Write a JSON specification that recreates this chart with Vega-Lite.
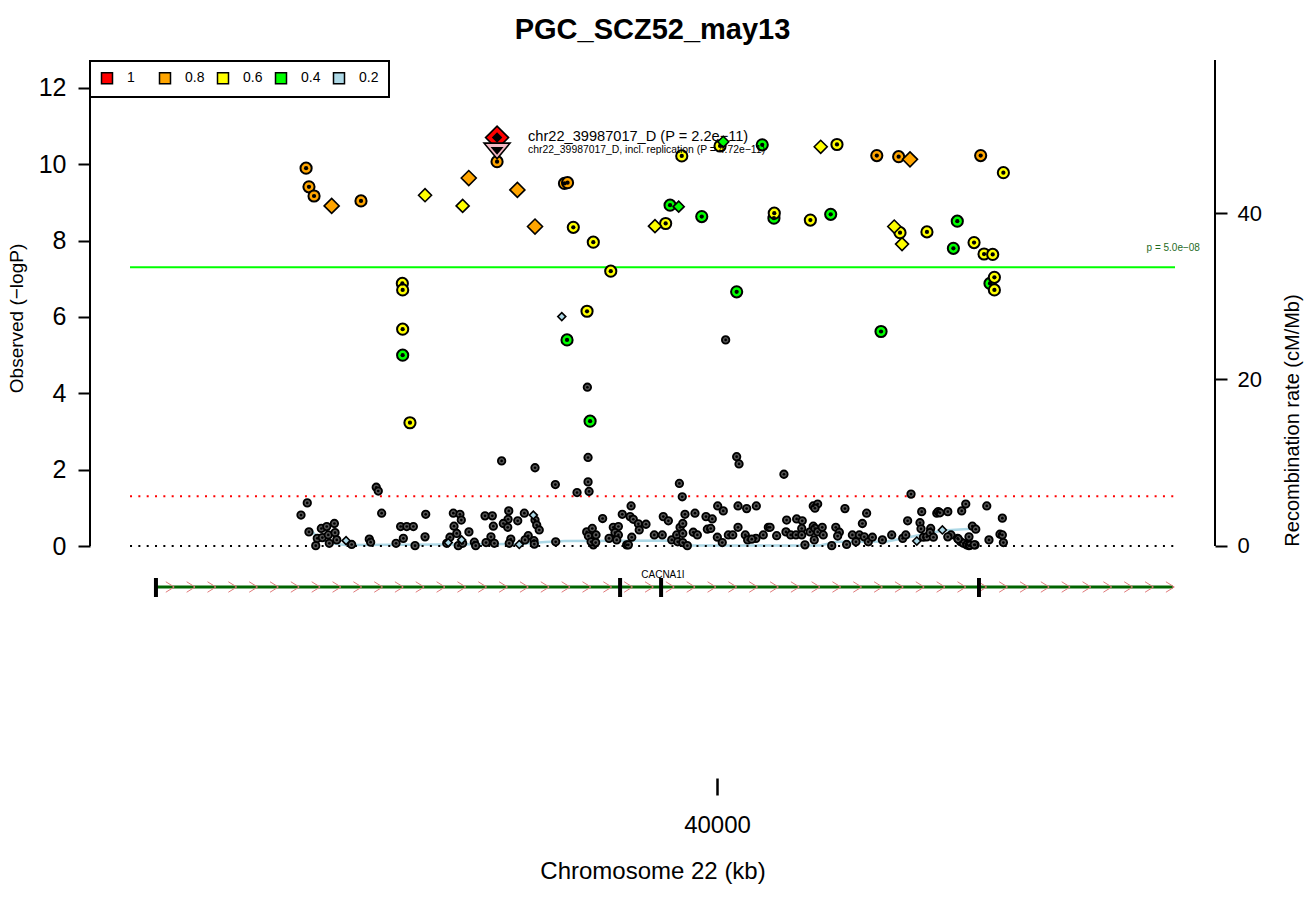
{
  "$schema": "https://vega.github.io/schema/vega-lite/v6.json",
  "width": 1125,
  "height": 718,
  "autosize": {"type": "none"},
  "padding": {"left": 90, "top": 60, "right": 89, "bottom": 122},
  "background": "white",
  "title": {"text": "PGC_SCZ52_may13", "fontSize": 29, "font": "Liberation Sans", "fontWeight": "bold", "anchor": "middle", "baseline": "alphabetic", "offset": -9, "color": "black", "frame": "group"},
  "config": {
    "view": {"stroke": null},
    "font": "Liberation Sans",
    "axis": {"grid": false, "domain": false, "labelColor": "black", "titleColor": "black", "tickColor": "black", "labelFont": "Liberation Sans", "titleFont": "Liberation Sans", "titleFontWeight": "normal"}
  },
  "datasets": {
    "thr": [
      {"kind": "gw", "pos": 39965.36, "pos2": 40027.03, "logp": 7.301},
      {"kind": "nom", "pos": 39965.36, "pos2": 40027.03, "logp": 1.301},
      {"kind": "zero", "pos": 39965.36, "pos2": 40027.03, "logp": 0}
    ],
    "axlines": [
      {"pos": 39962.998, "logp": 0, "logp2": 12},
      {"pos": 40029.389, "logp": 0, "logp2": 12.733}
    ],
    "geneline": [{"pos": 39966.89, "pos2": 40026.9, "logp": -1.074}],
    "exons": [
      {"pos": 39966.89, "logp": -0.838, "logp2": -1.336},
      {"pos": 39994.28, "logp": -0.838, "logp2": -1.336},
      {"pos": 39996.70, "logp": -0.838, "logp2": -1.336},
      {"pos": 40015.46, "logp": -0.838, "logp2": -1.336}
    ],
    "genelabel": [{"pos": 39996.81, "logp": -0.76, "text": "CACNA1I"}],
    "arrows": [
      {"pos": 39967.72, "logp": -1.074}, {"pos": 39968.95, "logp": -1.074}, {"pos": 39970.18, "logp": -1.074}, {"pos": 39971.41, "logp": -1.074},
      {"pos": 39972.64, "logp": -1.074}, {"pos": 39973.87, "logp": -1.074}, {"pos": 39975.10, "logp": -1.074}, {"pos": 39976.33, "logp": -1.074},
      {"pos": 39977.56, "logp": -1.074}, {"pos": 39978.79, "logp": -1.074}, {"pos": 39980.02, "logp": -1.074}, {"pos": 39981.24, "logp": -1.074},
      {"pos": 39982.47, "logp": -1.074}, {"pos": 39983.70, "logp": -1.074}, {"pos": 39984.93, "logp": -1.074}, {"pos": 39986.16, "logp": -1.074},
      {"pos": 39987.39, "logp": -1.074}, {"pos": 39988.62, "logp": -1.074}, {"pos": 39989.85, "logp": -1.074}, {"pos": 39991.08, "logp": -1.074},
      {"pos": 39992.31, "logp": -1.074}, {"pos": 39993.54, "logp": -1.074}, {"pos": 39994.77, "logp": -1.074}, {"pos": 39996.00, "logp": -1.074},
      {"pos": 39997.23, "logp": -1.074}, {"pos": 39998.46, "logp": -1.074}, {"pos": 39999.69, "logp": -1.074}, {"pos": 40000.92, "logp": -1.074},
      {"pos": 40002.15, "logp": -1.074}, {"pos": 40003.38, "logp": -1.074}, {"pos": 40004.61, "logp": -1.074}, {"pos": 40005.83, "logp": -1.074},
      {"pos": 40007.06, "logp": -1.074}, {"pos": 40008.29, "logp": -1.074}, {"pos": 40009.52, "logp": -1.074}, {"pos": 40010.75, "logp": -1.074},
      {"pos": 40011.98, "logp": -1.074}, {"pos": 40013.21, "logp": -1.074}, {"pos": 40014.44, "logp": -1.074}, {"pos": 40015.67, "logp": -1.074},
      {"pos": 40016.90, "logp": -1.074}, {"pos": 40018.13, "logp": -1.074}, {"pos": 40019.36, "logp": -1.074}, {"pos": 40020.59, "logp": -1.074},
      {"pos": 40021.82, "logp": -1.074}, {"pos": 40023.05, "logp": -1.074}, {"pos": 40024.28, "logp": -1.074}, {"pos": 40025.51, "logp": -1.074},
      {"pos": 40026.74, "logp": -1.074}
    ],
    "gray": [
      {"pos": 40000.51, "logp": 5.40, "ld": "none"}, {"pos": 39992.35, "logp": 4.16, "ld": "none"},
      {"pos": 39987.29, "logp": 2.23, "ld": "none"}, {"pos": 39989.26, "logp": 2.05, "ld": "none"}, {"pos": 39990.46, "logp": 1.61, "ld": "none"},
      {"pos": 39992.39, "logp": 2.32, "ld": "none"}, {"pos": 39992.39, "logp": 1.68, "ld": "none"}, {"pos": 39992.45, "logp": 1.43, "ld": "none"},
      {"pos": 39991.74, "logp": 1.40, "ld": "none"}, {"pos": 39979.89, "logp": 1.54, "ld": "none"}, {"pos": 39980.01, "logp": 1.44, "ld": "none"},
      {"pos": 39975.82, "logp": 1.13, "ld": "none"}, {"pos": 39975.45, "logp": 0.81, "ld": "none"}, {"pos": 39975.92, "logp": 0.37, "ld": "none"},
      {"pos": 39976.32, "logp": 0.01, "ld": "none"}, {"pos": 39976.41, "logp": 0.20, "ld": "none"}, {"pos": 39976.65, "logp": 0.46, "ld": "none"},
      {"pos": 39976.71, "logp": 0.22, "ld": "none"}, {"pos": 39976.97, "logp": 0.51, "ld": "none"}, {"pos": 39977.06, "logp": 0.29, "ld": "none"},
      {"pos": 39977.12, "logp": 0.07, "ld": "none"}, {"pos": 39977.42, "logp": 0.59, "ld": "none"}, {"pos": 39977.46, "logp": 0.35, "ld": "none"},
      {"pos": 39977.56, "logp": 0.16, "ld": "none"}, {"pos": 39978.44, "logp": 0.04, "ld": "none"}, {"pos": 39979.48, "logp": 0.18, "ld": "none"},
      {"pos": 39979.56, "logp": 0.10, "ld": "none"}, {"pos": 39980.21, "logp": 0.86, "ld": "none"}, {"pos": 39981.06, "logp": 0.07, "ld": "none"},
      {"pos": 39981.33, "logp": 0.51, "ld": "none"}, {"pos": 39981.69, "logp": 0.51, "ld": "none"}, {"pos": 39982.08, "logp": 0.51, "ld": "none"},
      {"pos": 39981.49, "logp": 0.20, "ld": "none"}, {"pos": 39982.18, "logp": 0.01, "ld": "none"}, {"pos": 39982.81, "logp": 0.83, "ld": "none"},
      {"pos": 39982.77, "logp": 0.24, "ld": "none"}, {"pos": 39984.05, "logp": 0.07, "ld": "none"}, {"pos": 39984.24, "logp": 0.23, "ld": "none"},
      {"pos": 39984.44, "logp": 0.86, "ld": "none"}, {"pos": 39984.83, "logp": 0.83, "ld": "none"}, {"pos": 39984.91, "logp": 0.68, "ld": "none"},
      {"pos": 39984.48, "logp": 0.52, "ld": "none"}, {"pos": 39984.64, "logp": 0.33, "ld": "none"}, {"pos": 39984.73, "logp": 0.01, "ld": "none"},
      {"pos": 39984.99, "logp": 0.07, "ld": "none"}, {"pos": 39985.36, "logp": 0.37, "ld": "none"}, {"pos": 39985.68, "logp": 0.10, "ld": "none"},
      {"pos": 39985.76, "logp": 0.01, "ld": "none"}, {"pos": 39986.31, "logp": 0.79, "ld": "none"}, {"pos": 39986.74, "logp": 0.79, "ld": "none"},
      {"pos": 39986.80, "logp": 0.52, "ld": "none"}, {"pos": 39986.66, "logp": 0.24, "ld": "none"}, {"pos": 39986.37, "logp": 0.09, "ld": "none"},
      {"pos": 39986.86, "logp": 0.07, "ld": "none"}, {"pos": 39987.71, "logp": 0.92, "ld": "none"}, {"pos": 39987.67, "logp": 0.70, "ld": "none"},
      {"pos": 39987.39, "logp": 0.59, "ld": "none"}, {"pos": 39987.65, "logp": 0.49, "ld": "none"}, {"pos": 39987.83, "logp": 0.18, "ld": "none"},
      {"pos": 39987.74, "logp": 0.07, "ld": "none"}, {"pos": 39988.24, "logp": 0.66, "ld": "none"}, {"pos": 39988.63, "logp": 0.86, "ld": "none"},
      {"pos": 39989.26, "logp": 0.68, "ld": "none"}, {"pos": 39989.36, "logp": 0.55, "ld": "none"}, {"pos": 39989.51, "logp": 0.42, "ld": "none"},
      {"pos": 39988.86, "logp": 0.27, "ld": "none"}, {"pos": 39988.67, "logp": 0.16, "ld": "none"}, {"pos": 39989.20, "logp": 0.14, "ld": "none"},
      {"pos": 39989.22, "logp": 0.05, "ld": "none"}, {"pos": 39990.48, "logp": 0.11, "ld": "none"}, {"pos": 39992.31, "logp": 0.37, "ld": "none"},
      {"pos": 39992.64, "logp": 0.46, "ld": "none"}, {"pos": 39992.41, "logp": 0.26, "ld": "none"}, {"pos": 39992.86, "logp": 0.29, "ld": "none"},
      {"pos": 39992.70, "logp": 0.03, "ld": "none"}, {"pos": 39992.57, "logp": 0.11, "ld": "none"}, {"pos": 39992.84, "logp": 0.09, "ld": "none"},
      {"pos": 39993.25, "logp": 0.72, "ld": "none"}, {"pos": 39993.63, "logp": 0.20, "ld": "none"}, {"pos": 39993.88, "logp": 0.49, "ld": "none"},
      {"pos": 39994.18, "logp": 0.51, "ld": "none"}, {"pos": 39993.98, "logp": 0.35, "ld": "none"}, {"pos": 39994.18, "logp": 0.29, "ld": "none"},
      {"pos": 39994.08, "logp": 0.16, "ld": "none"}, {"pos": 39994.41, "logp": 0.83, "ld": "none"}, {"pos": 39994.67, "logp": 0.03, "ld": "none"},
      {"pos": 40001.16, "logp": 2.34, "ld": "none"}, {"pos": 40001.30, "logp": 2.15, "ld": "none"}, {"pos": 39997.78, "logp": 1.64, "ld": "none"},
      {"pos": 39997.95, "logp": 1.29, "ld": "none"}, {"pos": 40003.95, "logp": 1.88, "ld": "none"}, {"pos": 40011.45, "logp": 1.36, "ld": "none"},
      {"pos": 39994.93, "logp": 1.05, "ld": "none"}, {"pos": 39994.87, "logp": 0.77, "ld": "none"}, {"pos": 39995.06, "logp": 0.70, "ld": "none"},
      {"pos": 39995.36, "logp": 0.58, "ld": "none"}, {"pos": 39995.41, "logp": 0.42, "ld": "none"}, {"pos": 39994.97, "logp": 0.23, "ld": "none"},
      {"pos": 39994.77, "logp": 0.03, "ld": "none"}, {"pos": 39995.81, "logp": 0.57, "ld": "none"}, {"pos": 39996.30, "logp": 0.29, "ld": "none"},
      {"pos": 39996.77, "logp": 0.29, "ld": "none"}, {"pos": 39996.83, "logp": 0.77, "ld": "none"}, {"pos": 39997.13, "logp": 0.66, "ld": "none"},
      {"pos": 39997.33, "logp": 0.16, "ld": "none"}, {"pos": 39997.62, "logp": 0.29, "ld": "none"}, {"pos": 39997.68, "logp": 0.11, "ld": "none"},
      {"pos": 39997.82, "logp": 0.49, "ld": "none"}, {"pos": 39997.98, "logp": 0.59, "ld": "none"}, {"pos": 39998.11, "logp": 0.83, "ld": "none"},
      {"pos": 39997.98, "logp": 0.33, "ld": "none"}, {"pos": 39997.98, "logp": 0.09, "ld": "none"}, {"pos": 39998.25, "logp": 0.01, "ld": "none"},
      {"pos": 39998.60, "logp": 0.36, "ld": "none"}, {"pos": 39998.84, "logp": 0.29, "ld": "none"}, {"pos": 39998.70, "logp": 0.86, "ld": "none"},
      {"pos": 39999.35, "logp": 0.77, "ld": "none"}, {"pos": 39999.72, "logp": 0.71, "ld": "none"}, {"pos": 39999.43, "logp": 0.44, "ld": "none"},
      {"pos": 39999.63, "logp": 0.46, "ld": "none"}, {"pos": 40000.04, "logp": 1.05, "ld": "none"}, {"pos": 40000.37, "logp": 0.92, "ld": "none"},
      {"pos": 40000.02, "logp": 0.23, "ld": "none"}, {"pos": 40000.31, "logp": 0.09, "ld": "none"}, {"pos": 40001.24, "logp": 1.05, "ld": "none"},
      {"pos": 40001.75, "logp": 0.98, "ld": "none"}, {"pos": 40002.32, "logp": 1.05, "ld": "none"}, {"pos": 40001.24, "logp": 0.49, "ld": "none"},
      {"pos": 40000.67, "logp": 0.29, "ld": "none"}, {"pos": 40000.93, "logp": 0.29, "ld": "none"}, {"pos": 40001.67, "logp": 0.29, "ld": "none"},
      {"pos": 40001.81, "logp": 0.16, "ld": "none"}, {"pos": 40002.30, "logp": 0.20, "ld": "none"}, {"pos": 40002.05, "logp": 0.18, "ld": "none"},
      {"pos": 40002.73, "logp": 0.29, "ld": "none"}, {"pos": 40003.03, "logp": 0.49, "ld": "none"}, {"pos": 40003.13, "logp": 0.49, "ld": "none"},
      {"pos": 40003.52, "logp": 0.27, "ld": "none"}, {"pos": 40004.11, "logp": 0.68, "ld": "none"}, {"pos": 40004.70, "logp": 0.71, "ld": "none"},
      {"pos": 40005.03, "logp": 0.66, "ld": "none"}, {"pos": 40004.07, "logp": 0.37, "ld": "none"}, {"pos": 40004.35, "logp": 0.29, "ld": "none"},
      {"pos": 40004.66, "logp": 0.29, "ld": "none"}, {"pos": 40005.00, "logp": 0.46, "ld": "none"}, {"pos": 40005.00, "logp": 0.29, "ld": "none"},
      {"pos": 40005.19, "logp": 0.03, "ld": "none"}, {"pos": 40005.49, "logp": 0.37, "ld": "none"}, {"pos": 40005.68, "logp": 0.52, "ld": "none"},
      {"pos": 40005.78, "logp": 0.46, "ld": "none"}, {"pos": 40005.68, "logp": 1.05, "ld": "none"}, {"pos": 40005.94, "logp": 1.10, "ld": "none"},
      {"pos": 40005.78, "logp": 0.99, "ld": "none"}, {"pos": 40005.74, "logp": 0.16, "ld": "none"}, {"pos": 40005.94, "logp": 0.37, "ld": "none"},
      {"pos": 40006.21, "logp": 0.49, "ld": "none"}, {"pos": 40006.27, "logp": 0.29, "ld": "none"}, {"pos": 40006.77, "logp": 0.01, "ld": "none"},
      {"pos": 40007.01, "logp": 0.49, "ld": "none"}, {"pos": 40007.22, "logp": 0.36, "ld": "none"}, {"pos": 40007.12, "logp": 0.26, "ld": "none"},
      {"pos": 40007.55, "logp": 0.98, "ld": "none"}, {"pos": 40007.65, "logp": 0.04, "ld": "none"}, {"pos": 40007.99, "logp": 0.29, "ld": "none"},
      {"pos": 40008.20, "logp": 0.11, "ld": "none"}, {"pos": 40008.40, "logp": 0.29, "ld": "none"}, {"pos": 40008.58, "logp": 0.59, "ld": "none"},
      {"pos": 40008.69, "logp": 0.24, "ld": "none"}, {"pos": 40008.83, "logp": 0.86, "ld": "none"}, {"pos": 40008.93, "logp": 0.11, "ld": "none"},
      {"pos": 40009.17, "logp": 0.23, "ld": "none"}, {"pos": 40009.76, "logp": 0.16, "ld": "none"}, {"pos": 40010.31, "logp": 0.29, "ld": "none"},
      {"pos": 40010.96, "logp": 0.20, "ld": "none"}, {"pos": 40011.14, "logp": 0.29, "ld": "none"}, {"pos": 40011.25, "logp": 0.66, "ld": "none"},
      {"pos": 40011.98, "logp": 0.61, "ld": "none"}, {"pos": 40012.04, "logp": 0.45, "ld": "none"}, {"pos": 40012.08, "logp": 0.90, "ld": "none"},
      {"pos": 40012.18, "logp": 0.23, "ld": "none"}, {"pos": 40012.38, "logp": 0.24, "ld": "none"}, {"pos": 40012.61, "logp": 0.46, "ld": "none"},
      {"pos": 40012.57, "logp": 0.35, "ld": "none"}, {"pos": 40012.77, "logp": 0.23, "ld": "none"}, {"pos": 40012.97, "logp": 0.86, "ld": "none"},
      {"pos": 40013.06, "logp": 0.90, "ld": "none"}, {"pos": 40013.62, "logp": 0.90, "ld": "none"}, {"pos": 40013.81, "logp": 0.29, "ld": "none"},
      {"pos": 40013.62, "logp": 0.24, "ld": "none"}, {"pos": 40014.20, "logp": 0.20, "ld": "none"}, {"pos": 40014.44, "logp": 0.92, "ld": "none"},
      {"pos": 40014.68, "logp": 1.10, "ld": "none"}, {"pos": 40014.38, "logp": 0.11, "ld": "none"}, {"pos": 40014.54, "logp": 0.07, "ld": "none"},
      {"pos": 40014.74, "logp": 0.03, "ld": "none"}, {"pos": 40014.87, "logp": 0.01, "ld": "none"}, {"pos": 40014.87, "logp": 0.24, "ld": "none"},
      {"pos": 40015.07, "logp": 0.52, "ld": "none"}, {"pos": 40015.27, "logp": 0.44, "ld": "none"}, {"pos": 40015.23, "logp": 0.03, "ld": "none"},
      {"pos": 40015.92, "logp": 1.05, "ld": "none"}, {"pos": 40016.05, "logp": 0.16, "ld": "none"}, {"pos": 40016.70, "logp": 0.31, "ld": "none"},
      {"pos": 40016.84, "logp": 0.29, "ld": "none"}, {"pos": 40016.90, "logp": 0.09, "ld": "none"}, {"pos": 40016.84, "logp": 0.73, "ld": "none"},
      {"pos": 40013.16, "logp": 0.87, "ld": "none"}, {"pos": 40014.93, "logp": 0.02, "ld": "none"}, {"pos": 40015.18, "logp": 0.03, "ld": "none"},
      {"pos": 40014.24, "logp": 0.18, "ld": "none"}
    ],
    "circ": [
      {"pos": 40002.67, "logp": 10.51, "ld": "0.4"}, {"pos": 39997.23, "logp": 8.93, "ld": "0.4"}, {"pos": 39999.10, "logp": 8.63, "ld": "0.4"},
      {"pos": 40003.36, "logp": 8.59, "ld": "0.4"}, {"pos": 40006.71, "logp": 8.69, "ld": "0.4"}, {"pos": 40014.18, "logp": 8.51, "ld": "0.4"},
      {"pos": 40013.95, "logp": 7.80, "ld": "0.4"}, {"pos": 40016.11, "logp": 6.88, "ld": "0.4"}, {"pos": 39981.45, "logp": 5.00, "ld": "0.4"},
      {"pos": 39991.15, "logp": 5.40, "ld": "0.4"}, {"pos": 39992.51, "logp": 3.27, "ld": "0.4"}, {"pos": 40001.16, "logp": 6.66, "ld": "0.4"},
      {"pos": 40009.68, "logp": 5.62, "ld": "0.4"},
      {"pos": 39991.52, "logp": 8.35, "ld": "0.6"}, {"pos": 39992.70, "logp": 7.96, "ld": "0.6"}, {"pos": 39993.73, "logp": 7.20, "ld": "0.6"},
      {"pos": 39997.92, "logp": 10.22, "ld": "0.6"}, {"pos": 40000.18, "logp": 10.48, "ld": "0.6"}, {"pos": 40007.08, "logp": 10.52, "ld": "0.6"},
      {"pos": 40016.90, "logp": 9.78, "ld": "0.6"}, {"pos": 39996.97, "logp": 8.45, "ld": "0.6"}, {"pos": 40003.38, "logp": 8.72, "ld": "0.6"},
      {"pos": 40005.51, "logp": 8.54, "ld": "0.6"}, {"pos": 40010.80, "logp": 8.21, "ld": "0.6"}, {"pos": 40012.39, "logp": 8.23, "ld": "0.6"},
      {"pos": 40015.17, "logp": 7.95, "ld": "0.6"}, {"pos": 40015.76, "logp": 7.65, "ld": "0.6"}, {"pos": 40016.27, "logp": 7.64, "ld": "0.6"},
      {"pos": 40016.37, "logp": 7.04, "ld": "0.6"}, {"pos": 40016.37, "logp": 6.71, "ld": "0.6"}, {"pos": 39981.43, "logp": 6.88, "ld": "0.6"},
      {"pos": 39981.45, "logp": 6.71, "ld": "0.6"}, {"pos": 39981.45, "logp": 5.68, "ld": "0.6"}, {"pos": 39981.88, "logp": 3.23, "ld": "0.6"},
      {"pos": 39992.33, "logp": 6.15, "ld": "0.6"},
      {"pos": 39975.75, "logp": 9.90, "ld": "0.8"}, {"pos": 39975.92, "logp": 9.41, "ld": "0.8"}, {"pos": 39976.22, "logp": 9.17, "ld": "0.8"},
      {"pos": 39978.99, "logp": 9.04, "ld": "0.8"}, {"pos": 39987.02, "logp": 10.07, "ld": "0.8"}, {"pos": 39991.00, "logp": 9.50, "ld": "0.8"},
      {"pos": 39991.18, "logp": 9.52, "ld": "0.8"}, {"pos": 40009.43, "logp": 10.23, "ld": "0.8"}, {"pos": 40010.72, "logp": 10.20, "ld": "0.8"},
      {"pos": 40015.56, "logp": 10.23, "ld": "0.8"}
    ],
    "diam": [
      {"pos": 39990.84, "logp": 6.01, "ld": "0.2"}, {"pos": 39978.11, "logp": 0.14, "ld": "0.2"}, {"pos": 39984.14, "logp": 0.09, "ld": "0.2"},
      {"pos": 39984.93, "logp": 0.16, "ld": "0.2"}, {"pos": 39989.16, "logp": 0.81, "ld": "0.2"}, {"pos": 39988.33, "logp": 0.04, "ld": "0.2"},
      {"pos": 40011.79, "logp": 0.13, "ld": "0.2"}, {"pos": 40013.30, "logp": 0.42, "ld": "0.2"},
      {"pos": 40000.37, "logp": 10.59, "ld": "0.4"}, {"pos": 39997.74, "logp": 8.89, "ld": "0.4"},
      {"pos": 39982.77, "logp": 9.19, "ld": "0.6"}, {"pos": 39984.99, "logp": 8.91, "ld": "0.6"}, {"pos": 40006.12, "logp": 10.46, "ld": "0.6"},
      {"pos": 39996.34, "logp": 8.38, "ld": "0.6"}, {"pos": 40010.46, "logp": 8.37, "ld": "0.6"}, {"pos": 40010.92, "logp": 7.91, "ld": "0.6"},
      {"pos": 39977.26, "logp": 8.91, "ld": "0.8"}, {"pos": 39985.35, "logp": 9.64, "ld": "0.8"}, {"pos": 39988.22, "logp": 9.33, "ld": "0.8"},
      {"pos": 39989.26, "logp": 8.37, "ld": "0.8"}, {"pos": 40011.39, "logp": 10.13, "ld": "0.8"}
    ],
    "lead": [{"pos": 39987.02, "logp": 10.70, "ld": "1"}],
    "rep": [{"pos": 39987.02, "logp": 10.35}],
    "leadlabels": [
      {"pos": 39988.85, "logp": 10.715, "text": "chr22_39987017_D (P = 2.2e\u221211)", "kind": "main"},
      {"pos": 39988.85, "logp": 10.375, "text": "chr22_39987017_D, incl. replication (P = 4.72e\u221211)", "kind": "sub"}
    ],
    "gwlabel": [{"pos": 40028.5, "logp": 7.81, "text": "p = 5.0e\u221208"}],
    "recomb": [
      {"pos": 39976.04, "rate": 1.92}, {"pos": 39976.45, "rate": 0.96}, {"pos": 39977.16, "rate": 0.36}, {"pos": 39978.05, "rate": 0.12},
      {"pos": 39984.07, "rate": 0.18}, {"pos": 39988.37, "rate": 0.24}, {"pos": 39989.85, "rate": 0.48}, {"pos": 39991.03, "rate": 0.60},
      {"pos": 39994.87, "rate": 0.64}, {"pos": 39997.23, "rate": 0.66}, {"pos": 39997.82, "rate": 0.24}, {"pos": 39998.41, "rate": 0.06},
      {"pos": 40006.08, "rate": 0.06}, {"pos": 40007.08, "rate": 0.52}, {"pos": 40010.03, "rate": 0.54}, {"pos": 40011.39, "rate": 1.08},
      {"pos": 40013.34, "rate": 1.86}, {"pos": 40015.05, "rate": 2.07}
    ]
  },
  "layer": [
    {
      "data": {"name": "recomb"},
      "mark": {"type": "line", "color": "#ADD8E6", "strokeWidth": 2.5},
      "encoding": {
        "x": {"field": "pos", "type": "quantitative", "scale": {"domain": [39962.998, 40029.389], "nice": false, "zero": false},
              "axis": {"values": [40000], "format": "d", "tickSize": 17, "tickWidth": 2.5, "labelFontSize": 24, "labelPadding": 18, "title": "Chromosome 22 (kb)", "titleFontSize": 24, "titlePadding": 22}},
        "y": {"field": "rate", "type": "quantitative", "scale": {"domain": [-27.87, 58.38], "nice": false, "zero": false},
              "axis": {"orient": "right", "values": [0, 20, 40], "tickSize": 12, "tickWidth": 2, "labelFontSize": 22, "labelPadding": 10, "title": "Recombination rate (cM/Mb)", "titleFontSize": 20, "titleAngle": -90, "titleX": 83, "titleY": 360, "titleBaseline": "alphabetic", "titleAlign": "center"}}
      }
    },
    {
      "encoding": {
        "x": {"field": "pos", "type": "quantitative", "scale": {"domain": [39962.998, 40029.389], "nice": false, "zero": false},
              "axis": {"values": [40000], "format": "d", "tickSize": 17, "tickWidth": 2.5, "labelFontSize": 24, "labelPadding": 18, "title": "Chromosome 22 (kb)", "titleFontSize": 24, "titlePadding": 22}},
        "y": {"field": "logp", "type": "quantitative", "scale": {"domain": [-6.078, 12.733], "nice": false, "zero": false},
              "axis": {"orient": "left", "values": [0, 2, 4, 6, 8, 10, 12], "tickSize": 12, "tickWidth": 2, "labelFontSize": 25, "labelPadding": 12, "title": "Observed (\u2212logP)", "titleFontSize": 19, "titleAngle": -90, "titleX": -68, "titleY": 258, "titleBaseline": "alphabetic", "titleAlign": "center"}}
      },
      "layer": [
        {
          "data": {"name": "thr"},
          "mark": {"type": "rule", "strokeWidth": 2},
          "encoding": {
            "x2": {"field": "pos2"},
            "stroke": {"field": "kind", "type": "nominal", "scale": {"domain": ["gw", "nom", "zero"], "range": ["#00FF00", "#FF0000", "#000000"]}, "legend": null},
            "strokeDash": {"field": "kind", "type": "nominal", "scale": {"domain": ["gw", "nom", "zero"], "range": [[1, 0], [2, 6.33], [2, 6.33]]}, "legend": null}
          }
        },
        {
          "data": {"name": "axlines"},
          "mark": {"type": "rule", "strokeWidth": 2, "color": "black"},
          "encoding": {"y2": {"field": "logp2"}}
        },
        {
          "data": {"name": "geneline"},
          "mark": {"type": "rule", "strokeWidth": 3, "color": "#006400"},
          "encoding": {"x2": {"field": "pos2"}}
        },
        {
          "data": {"name": "arrows"},
          "mark": {"type": "point", "shape": "M-0.8,-1L0.8,0L-0.8,1", "filled": false, "stroke": "#E07A7A", "strokeWidth": 1, "size": 110, "opacity": 1},
          "encoding": {}
        },
        {
          "data": {"name": "exons"},
          "mark": {"type": "rule", "strokeWidth": 4, "color": "black"},
          "encoding": {"y2": {"field": "logp2"}}
        },
        {
          "data": {"name": "genelabel"},
          "mark": {"type": "text", "fontSize": 10, "font": "Liberation Sans", "color": "black", "align": "center", "baseline": "middle"},
          "encoding": {"text": {"field": "text"}}
        },
        {
          "data": {"name": "gray"},
          "mark": {"type": "point", "shape": "circle", "filled": true, "size": 56, "stroke": "black", "strokeWidth": 1.8, "opacity": 1},
          "encoding": {"fill": {"field": "ld", "type": "nominal", "scale": {"domain": ["none", "0.2", "0.4", "0.6", "0.8", "1"], "range": ["#555555", "#ADD8E6", "#00FF00", "#FFFF00", "#FFA500", "#FF0000"]},
            "legend": {"orient": "none", "legendX": 0, "legendY": 1, "direction": "horizontal", "columns": 5, "title": null, "values": ["1", "0.8", "0.6", "0.4", "0.2"], "symbolType": "square", "symbolSize": 121, "symbolStrokeColor": "black", "symbolStrokeWidth": 1.5, "symbolOpacity": 1, "labelFontSize": 14, "labelFont": "Liberation Sans", "labelColor": "black", "labelOffset": 13, "columnPadding": 9, "gridAlign": "all", "padding": 10, "strokeColor": "black", "fillColor": "white",
              "encode": {"legend": {"update": {"strokeWidth": {"value": 2}}}}}}}
        },
        {
          "data": {"name": "gray"},
          "mark": {"type": "point", "shape": "circle", "filled": true, "size": 7, "color": "black", "opacity": 1},
          "encoding": {}
        },
        {
          "data": {"name": "circ"},
          "mark": {"type": "point", "shape": "circle", "filled": true, "size": 125, "stroke": "black", "strokeWidth": 2, "opacity": 1},
          "encoding": {"fill": {"field": "ld", "type": "nominal", "scale": {"domain": ["none", "0.2", "0.4", "0.6", "0.8", "1"], "range": ["#555555", "#ADD8E6", "#00FF00", "#FFFF00", "#FFA500", "#FF0000"]}}}
        },
        {
          "data": {"name": "circ"},
          "mark": {"type": "point", "shape": "circle", "filled": true, "size": 18, "color": "black", "opacity": 1},
          "encoding": {}
        },
        {
          "data": {"name": "diam"},
          "mark": {"type": "point", "shape": "diamond", "filled": true, "stroke": "black", "strokeWidth": 1.6, "opacity": 1},
          "encoding": {
            "fill": {"field": "ld", "type": "nominal", "scale": {"domain": ["none", "0.2", "0.4", "0.6", "0.8", "1"], "range": ["#555555", "#ADD8E6", "#00FF00", "#FFFF00", "#FFA500", "#FF0000"]}},
            "size": {"field": "ld", "type": "nominal", "scale": {"type": "ordinal", "domain": ["0.2", "0.4", "0.6", "0.8"], "range": [64, 121, 169, 225]}, "legend": null}
          }
        },
        {
          "data": {"name": "lead"},
          "mark": {"type": "point", "shape": "diamond", "filled": true, "size": 529, "stroke": "black", "strokeWidth": 1.6, "opacity": 1},
          "encoding": {"fill": {"field": "ld", "type": "nominal", "scale": {"domain": ["none", "0.2", "0.4", "0.6", "0.8", "1"], "range": ["#555555", "#ADD8E6", "#00FF00", "#FFFF00", "#FFA500", "#FF0000"]}}}
        },
        {
          "data": {"name": "lead"},
          "mark": {"type": "point", "shape": "diamond", "filled": true, "size": 110, "color": "black", "opacity": 1},
          "encoding": {}
        },
        {
          "data": {"name": "rep"},
          "mark": {"type": "point", "shape": "M-1,-0.6L1,-0.6L0,0.6Z", "filled": true, "size": 676, "fill": "#F4B6C2", "stroke": "black", "strokeWidth": 1.6, "opacity": 1},
          "encoding": {}
        },
        {
          "data": {"name": "rep"},
          "mark": {"type": "point", "shape": "M-1,-0.6L1,-0.6L0,0.6Z", "filled": true, "size": 169, "color": "black", "opacity": 1},
          "encoding": {}
        },
        {
          "data": {"name": "leadlabels"},
          "transform": [{"filter": "datum.kind === 'main'"}],
          "mark": {"type": "text", "fontSize": 14.6, "font": "Liberation Sans", "color": "black", "align": "left", "baseline": "middle"},
          "encoding": {"text": {"field": "text"}}
        },
        {
          "data": {"name": "leadlabels"},
          "transform": [{"filter": "datum.kind === 'sub'"}],
          "mark": {"type": "text", "fontSize": 10.4, "font": "Liberation Sans", "color": "black", "align": "left", "baseline": "middle"},
          "encoding": {"text": {"field": "text"}}
        },
        {
          "data": {"name": "gwlabel"},
          "mark": {"type": "text", "fontSize": 10, "font": "Liberation Sans", "color": "#1E6B1E", "align": "right", "baseline": "middle"},
          "encoding": {"text": {"field": "text"}}
        }
      ]
    }
  ],
  "resolve": {"scale": {"y": "independent"}}
}
